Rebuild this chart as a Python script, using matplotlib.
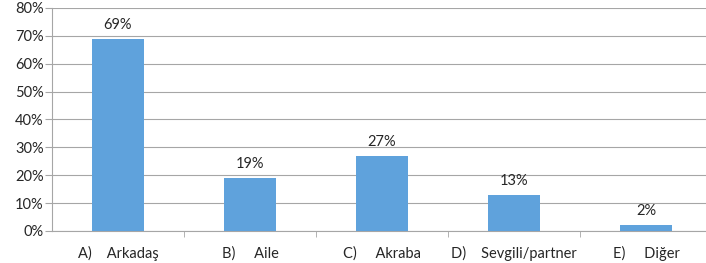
import matplotlib.pyplot as plt
from matplotlib.ticker import FuncFormatter, MultipleLocator

plt.rcParams['font.family'] = ['Lato', 'DejaVu Sans']

categories = ['A)    Arkadaş', 'B)     Aile', 'C)     Akraba', 'D)    Sevgili/partner', 'E)     Diğer']
values = [69, 19, 27, 13, 2]

bar_color = '#5FA2DC'
grid_color = '#A6A6A6'
text_color = '#262626'
fs = 10.5

fig = plt.figure(figsize=(7.06, 2.63), dpi=100)
ax = fig.add_axes([52 / 706, 32 / 263, 660 / 706, 223 / 263])

x = range(len(values))
ax.bar(x, values, width=0.39, color=bar_color, zorder=3)
for xi, v in zip(x, values):
    ax.text(xi, v + 2.5, f'{v}%', ha='center', va='bottom', fontsize=fs, color=text_color)

ax.set_xlim(-0.5, len(values) - 0.5)
ax.set_ylim(0, 80)
ax.yaxis.set_major_locator(MultipleLocator(10))
ax.yaxis.set_major_formatter(FuncFormatter(lambda v, p: f'{int(v)}%'))
ax.grid(axis='y', color=grid_color, linewidth=0.8, zorder=0)

ax.set_xticks(list(x))
ax.set_xticklabels(categories, fontsize=fs, color=text_color)
ax.set_xticks([i + 0.5 for i in range(len(values) - 1)], minor=True)
ax.tick_params(axis='x', which='major', length=0, pad=11)
ax.tick_params(axis='x', which='minor', length=4, color=grid_color, direction='out')
ax.tick_params(axis='y', length=5, color=grid_color, labelsize=fs, labelcolor=text_color, pad=1)

for side in ['top', 'right']:
    ax.spines[side].set_visible(False)
for side in ['left', 'bottom']:
    ax.spines[side].set_color(grid_color)
    ax.spines[side].set_linewidth(0.8)

fig.savefig('out.png', dpi=100)
